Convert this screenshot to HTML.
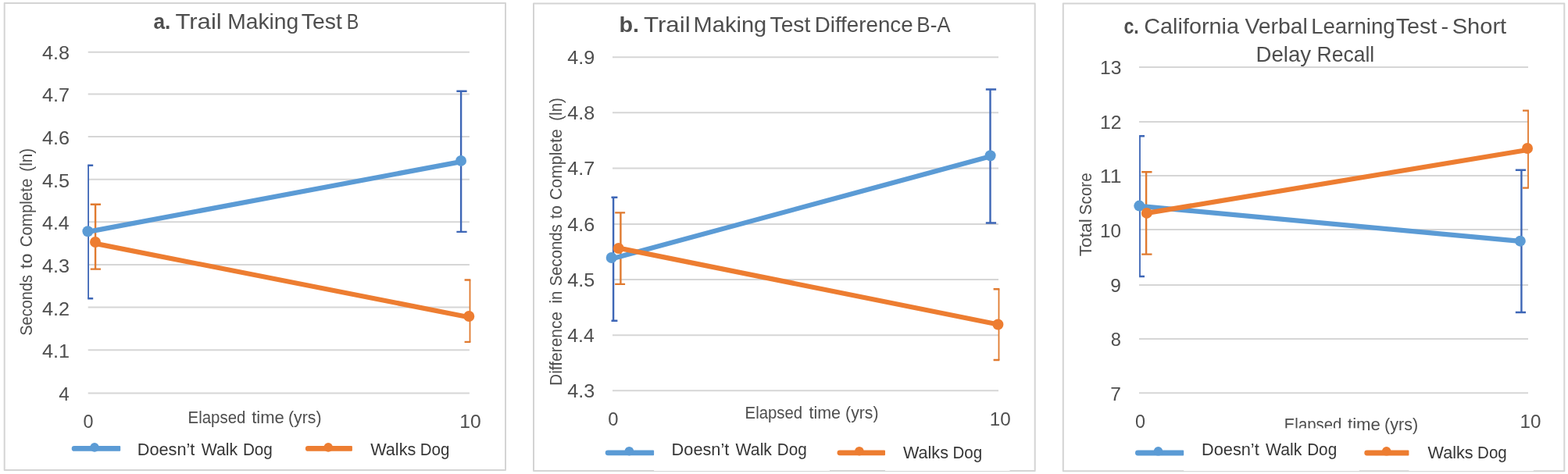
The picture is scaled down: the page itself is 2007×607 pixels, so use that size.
<!DOCTYPE html>
<html lang="en">
<head>
<meta charset="utf-8">
<title>Dog walking and cognitive outcomes</title>
<style>
html,body{margin:0;padding:0;background:#fff;}
body{width:2007px;height:607px;overflow:hidden;}
svg{display:block;font-family:'Liberation Sans', sans-serif;}
</style>
</head>
<body>
<svg width="2007" height="607" viewBox="0 0 2007 607">
<rect width="2007" height="607" fill="#fff"/>
<g id="panel-a">
<rect x="5.7" y="4" width="641.3" height="598.1" fill="#fff" stroke="#d4d4d4" stroke-width="2" stroke-linejoin="round"/>
<path d="M112.7 66.80H600.9M112.7 120.50H600.9M112.7 174.95H600.9M112.7 229.70H600.9M112.7 284.30H600.9M112.7 339.00H600.9M112.7 393.45H600.9M112.7 448.25H600.9M112.7 503.45H600.9" stroke="#d6d6d6" stroke-width="2" fill="none"/>
<text y="75.50" font-size="23" fill="#4e4e4e"><tspan x="54.00" textLength="35.17" lengthAdjust="spacingAndGlyphs">4.8</tspan></text>
<text y="130.20" font-size="23" fill="#4e4e4e"><tspan x="54.00" textLength="35.17" lengthAdjust="spacingAndGlyphs">4.7</tspan></text>
<text y="184.90" font-size="23" fill="#4e4e4e"><tspan x="54.00" textLength="35.17" lengthAdjust="spacingAndGlyphs">4.6</tspan></text>
<text y="239.60" font-size="23" fill="#4e4e4e"><tspan x="54.00" textLength="35.17" lengthAdjust="spacingAndGlyphs">4.5</tspan></text>
<text y="294.30" font-size="23" fill="#4e4e4e"><tspan x="54.01" textLength="34.76" lengthAdjust="spacingAndGlyphs">4.4</tspan></text>
<text y="349.00" font-size="23" fill="#4e4e4e"><tspan x="54.00" textLength="35.17" lengthAdjust="spacingAndGlyphs">4.3</tspan></text>
<text y="403.70" font-size="23" fill="#4e4e4e"><tspan x="54.00" textLength="35.17" lengthAdjust="spacingAndGlyphs">4.2</tspan></text>
<text y="458.40" font-size="23" fill="#4e4e4e"><tspan x="54.00" textLength="35.17" lengthAdjust="spacingAndGlyphs">4.1</tspan></text>
<text y="513.10" font-size="23" fill="#4e4e4e"><tspan x="75.17" textLength="13.59" lengthAdjust="spacingAndGlyphs">4</tspan></text>
<text y="36.80" font-size="27.6" fill="#4e4e4e"><tspan x="196.49" textLength="21.86" lengthAdjust="spacingAndGlyphs" font-weight="bold">a.</tspan> <tspan x="224.41" textLength="59.34" lengthAdjust="spacingAndGlyphs">Trail</tspan> <tspan x="291.19" textLength="91.09" lengthAdjust="spacingAndGlyphs">Making</tspan> <tspan x="385.76" textLength="52.05" lengthAdjust="spacingAndGlyphs">Test</tspan> <tspan x="443.79" textLength="15.49" lengthAdjust="spacingAndGlyphs">B</tspan></text>
<text y="547.80" font-size="23" fill="#4e4e4e"><tspan x="106.47" textLength="13.01" lengthAdjust="spacingAndGlyphs">0</tspan></text>
<text y="547.70" font-size="23" fill="#4e4e4e"><tspan x="588.36" textLength="27.46" lengthAdjust="spacingAndGlyphs">10</tspan></text>
<text y="541.90" font-size="21.3" fill="#4e4e4e"><tspan x="240.61" textLength="73.74" lengthAdjust="spacingAndGlyphs">Elapsed</tspan> <tspan x="322.20" textLength="41.69" lengthAdjust="spacingAndGlyphs">time</tspan> <tspan x="369.00" textLength="42.50" lengthAdjust="spacingAndGlyphs">(yrs)</tspan></text>
<text y="40.60" font-size="22" fill="#4e4e4e" transform="rotate(-90)"><tspan x="-429.83" textLength="77.85" lengthAdjust="spacingAndGlyphs">Seconds</tspan> <tspan x="-343.90" textLength="19.44" lengthAdjust="spacingAndGlyphs">to</tspan> <tspan x="-316.36" textLength="87.69" lengthAdjust="spacingAndGlyphs">Complete</tspan> <tspan x="-219.77" textLength="29.94" lengthAdjust="spacingAndGlyphs">(ln)</tspan></text>
<path d="M113.1 211.8V382.3" stroke="#3d66b6" stroke-width="1.8" fill="none"/>
<path d="M112.2 211.8H119.2M112.2 382.3H119.2" stroke="#3d66b6" stroke-width="2.4" fill="none"/>
<path d="M590.1 116.8V296.9" stroke="#3d66b6" stroke-width="2.4" fill="none"/>
<path d="M584.4 116.8H597.6M584.4 296.9H597.6" stroke="#3d66b6" stroke-width="2.4" fill="none"/>
<path d="M122.1 261.8V344.6" stroke="#e07a2f" stroke-width="2.4" fill="none"/>
<path d="M115.7 261.8H129.0M115.7 344.6H129.0" stroke="#e07a2f" stroke-width="2.4" fill="none"/>
<path d="M601.5 358.5V437.9" stroke="#e07a2f" stroke-width="1.8" fill="none"/>
<path d="M594.6 358.5H602.4M594.6 437.9H602.4" stroke="#e07a2f" stroke-width="2.4" fill="none"/>
<path d="M112.4 296.85L590.0 207.1" stroke="#5b9bd5" stroke-width="6.2" stroke-linecap="round" fill="none"/>
<circle cx="112.4" cy="296.2" r="7" fill="#5b9bd5"/>
<circle cx="590.0" cy="205.9" r="7" fill="#5b9bd5"/>
<path d="M122 311.9L600.3 406.2" stroke="#ed7d31" stroke-width="6.2" stroke-linecap="round" fill="none"/>
<circle cx="122" cy="310.0" r="7" fill="#ed7d31"/>
<circle cx="600.3" cy="405" r="7" fill="#ed7d31"/>
<path d="M95.10 571.00H153.20Q154.20 571.00 154.20 572.00V576.80Q154.20 577.80 153.20 577.80H95.10A3.4 3.4 0 0 1 95.10 571.00Z" fill="#5b9bd5"/>
<circle cx="121.00" cy="572.90" r="5.8" fill="#5b9bd5"/>
<text y="582.80" font-size="22" fill="#363636"><tspan x="175.70" textLength="73.72" lengthAdjust="spacingAndGlyphs">Doesn’t</tspan> <tspan x="257.70" textLength="46.37" lengthAdjust="spacingAndGlyphs">Walk</tspan> <tspan x="310.88" textLength="37.98" lengthAdjust="spacingAndGlyphs">Dog</tspan></text>
<path d="M394.30 571.00H449.90Q450.90 571.00 450.90 572.00V576.80Q450.90 577.80 449.90 577.80H394.30A3.4 3.4 0 0 1 394.30 571.00Z" fill="#ed7d31"/>
<circle cx="420.20" cy="572.90" r="5.8" fill="#ed7d31"/>
<text y="582.80" font-size="22" fill="#363636"><tspan x="474.20" textLength="58.08" lengthAdjust="spacingAndGlyphs">Walks</tspan> <tspan x="537.70" textLength="37.66" lengthAdjust="spacingAndGlyphs">Dog</tspan></text>
</g>
<g id="panel-b">
<rect x="683.0" y="4.5" width="641.7" height="598.5" fill="#fff" stroke="#d4d4d4" stroke-width="2" stroke-linejoin="round"/>
<path d="M784 73.32H1278M784 144.24H1278M784 215.42H1278M784 286.95H1278M784 357.97H1278M784 429.24H1278M784 500.32H1278" stroke="#d6d6d6" stroke-width="2" fill="none"/>
<text y="82.22" font-size="23" fill="#4e4e4e"><tspan x="726.21" textLength="35.01" lengthAdjust="spacingAndGlyphs">4.9</tspan></text>
<text y="153.14" font-size="23" fill="#4e4e4e"><tspan x="726.21" textLength="35.01" lengthAdjust="spacingAndGlyphs">4.8</tspan></text>
<text y="224.32" font-size="23" fill="#4e4e4e"><tspan x="726.21" textLength="35.01" lengthAdjust="spacingAndGlyphs">4.7</tspan></text>
<text y="295.85" font-size="23" fill="#4e4e4e"><tspan x="726.21" textLength="35.01" lengthAdjust="spacingAndGlyphs">4.6</tspan></text>
<text y="366.87" font-size="23" fill="#4e4e4e"><tspan x="726.21" textLength="35.01" lengthAdjust="spacingAndGlyphs">4.5</tspan></text>
<text y="438.14" font-size="23" fill="#4e4e4e"><tspan x="726.21" textLength="34.61" lengthAdjust="spacingAndGlyphs">4.4</tspan></text>
<text y="509.22" font-size="23" fill="#4e4e4e"><tspan x="726.21" textLength="35.01" lengthAdjust="spacingAndGlyphs">4.3</tspan></text>
<text y="40.50" font-size="27.6" fill="#4e4e4e"><tspan x="792.40" textLength="25.60" lengthAdjust="spacingAndGlyphs" font-weight="bold">b.</tspan> <tspan x="824.01" textLength="59.65" lengthAdjust="spacingAndGlyphs">Trail</tspan> <tspan x="887.63" textLength="93.60" lengthAdjust="spacingAndGlyphs">Making</tspan> <tspan x="985.56" textLength="51.74" lengthAdjust="spacingAndGlyphs">Test</tspan> <tspan x="1042.73" textLength="125.89" lengthAdjust="spacingAndGlyphs">Difference</tspan> <tspan x="1173.27" textLength="43.41" lengthAdjust="spacingAndGlyphs">B-A</tspan></text>
<text y="544.50" font-size="23" fill="#4e4e4e"><tspan x="778.16" textLength="13.24" lengthAdjust="spacingAndGlyphs">0</tspan></text>
<text y="544.50" font-size="23" fill="#4e4e4e"><tspan x="1266.69" textLength="26.91" lengthAdjust="spacingAndGlyphs">10</tspan></text>
<text y="536.05" font-size="21.3" fill="#4e4e4e"><tspan x="953.61" textLength="73.43" lengthAdjust="spacingAndGlyphs">Elapsed</tspan> <tspan x="1035.50" textLength="40.47" lengthAdjust="spacingAndGlyphs">time</tspan> <tspan x="1082.11" textLength="42.39" lengthAdjust="spacingAndGlyphs">(yrs)</tspan></text>
<text y="718.60" font-size="22.5" fill="#4e4e4e" transform="rotate(-90)"><tspan x="-493.93" textLength="94.88" lengthAdjust="spacingAndGlyphs">Difference</tspan> <tspan x="-388.58" textLength="15.93" lengthAdjust="spacingAndGlyphs">in</tspan> <tspan x="-366.33" textLength="79.07" lengthAdjust="spacingAndGlyphs">Seconds</tspan> <tspan x="-280.10" textLength="17.03" lengthAdjust="spacingAndGlyphs">to</tspan> <tspan x="-256.00" textLength="90.86" lengthAdjust="spacingAndGlyphs">Complete</tspan> <tspan x="-154.76" textLength="29.62" lengthAdjust="spacingAndGlyphs">(ln)</tspan></text>
<path d="M785.1 252.7V410.7" stroke="#3d66b6" stroke-width="2.4" fill="none"/>
<path d="M782.5 252.7H790.4M782.5 410.7H790.4" stroke="#3d66b6" stroke-width="2.4" fill="none"/>
<path d="M1267.5 114.5V285.5" stroke="#3d66b6" stroke-width="2.4" fill="none"/>
<path d="M1261.8 114.5H1275.1M1261.8 285.5H1275.1" stroke="#3d66b6" stroke-width="2.4" fill="none"/>
<path d="M794.4 272.4V363.9" stroke="#e07a2f" stroke-width="2.4" fill="none"/>
<path d="M787.15 272.4H800.1M787.15 363.9H800.1" stroke="#e07a2f" stroke-width="2.4" fill="none"/>
<path d="M1278.5 370.3V461.0" stroke="#e07a2f" stroke-width="1.8" fill="none"/>
<path d="M1271.6 370.3H1279.4M1271.6 461.0H1279.4" stroke="#e07a2f" stroke-width="2.4" fill="none"/>
<path d="M782.7 331.55L1267.6 200.3" stroke="#5b9bd5" stroke-width="6.2" stroke-linecap="round" fill="none"/>
<circle cx="782.7" cy="330" r="7" fill="#5b9bd5"/>
<circle cx="1267.6" cy="199.3" r="7" fill="#5b9bd5"/>
<path d="M791.7 317.65L1277.4 415.5" stroke="#ed7d31" stroke-width="6.2" stroke-linecap="round" fill="none"/>
<circle cx="791.7" cy="318" r="7" fill="#ed7d31"/>
<circle cx="1277.4" cy="415.5" r="7" fill="#ed7d31"/>
<rect x="837.1" y="560" width="224.9" height="43" fill="#fff"/>
<rect x="1133" y="562" width="159.5" height="41" fill="#fff"/>
<path d="M778.10 576.40H836.10Q837.10 576.40 837.10 577.40V582.20Q837.10 583.20 836.10 583.20H778.10A3.4 3.4 0 0 1 778.10 576.40Z" fill="#5b9bd5"/>
<circle cx="805.40" cy="577.70" r="5.8" fill="#5b9bd5"/>
<text y="583.40" font-size="22" fill="#363636"><tspan x="859.60" textLength="73.72" lengthAdjust="spacingAndGlyphs">Doesn’t</tspan> <tspan x="941.60" textLength="46.37" lengthAdjust="spacingAndGlyphs">Walk</tspan> <tspan x="994.78" textLength="37.98" lengthAdjust="spacingAndGlyphs">Dog</tspan></text>
<path d="M1074.90 576.40H1132.00Q1133.00 576.40 1133.00 577.40V582.20Q1133.00 583.20 1132.00 583.20H1074.90A3.4 3.4 0 0 1 1074.90 576.40Z" fill="#ed7d31"/>
<circle cx="1099.90" cy="577.70" r="5.8" fill="#ed7d31"/>
<text y="586.70" font-size="22" fill="#363636"><tspan x="1155.90" textLength="58.08" lengthAdjust="spacingAndGlyphs">Walks</tspan> <tspan x="1219.40" textLength="37.66" lengthAdjust="spacingAndGlyphs">Dog</tspan></text>
</g>
<g id="panel-c">
<rect x="1360.8" y="4.5" width="641.5" height="598.7" fill="#fff" stroke="#d4d4d4" stroke-width="2" stroke-linejoin="round"/>
<path d="M1458 85.90H1956M1458 156.05H1956M1458 224.95H1956M1458 293.90H1956M1458 365.05H1956M1458 434.05H1956M1458 503.15H1956" stroke="#d6d6d6" stroke-width="2" fill="none"/>
<text y="94.85" font-size="23" fill="#4e4e4e"><tspan x="1407.96" textLength="27.44" lengthAdjust="spacingAndGlyphs">13</tspan></text>
<text y="164.60" font-size="23" fill="#4e4e4e"><tspan x="1407.96" textLength="27.44" lengthAdjust="spacingAndGlyphs">12</tspan></text>
<text y="234.10" font-size="23" fill="#4e4e4e"><tspan x="1407.84" textLength="27.64" lengthAdjust="spacingAndGlyphs">11</tspan></text>
<text y="303.50" font-size="23" fill="#4e4e4e"><tspan x="1407.98" textLength="27.02" lengthAdjust="spacingAndGlyphs">10</tspan></text>
<text y="373.50" font-size="23" fill="#4e4e4e"><tspan x="1421.25" textLength="13.64" lengthAdjust="spacingAndGlyphs">9</tspan></text>
<text y="442.70" font-size="23" fill="#4e4e4e"><tspan x="1421.66" textLength="13.20" lengthAdjust="spacingAndGlyphs">8</tspan></text>
<text y="512.70" font-size="23" fill="#4e4e4e"><tspan x="1421.25" textLength="13.64" lengthAdjust="spacingAndGlyphs">7</tspan></text>
<text y="43.30" font-size="27.6" fill="#4e4e4e"><tspan x="1438.38" textLength="19.29" lengthAdjust="spacingAndGlyphs" font-weight="bold">c.</tspan> <tspan x="1464.25" textLength="121.77" lengthAdjust="spacingAndGlyphs">California</tspan> <tspan x="1593.40" textLength="80.37" lengthAdjust="spacingAndGlyphs">Verbal</tspan> <tspan x="1678.14" textLength="107.51" lengthAdjust="spacingAndGlyphs">Learning</tspan> <tspan x="1786.65" textLength="52.65" lengthAdjust="spacingAndGlyphs">Test</tspan> <tspan x="1844.49" textLength="9.65" lengthAdjust="spacingAndGlyphs">-</tspan> <tspan x="1858.69" textLength="69.51" lengthAdjust="spacingAndGlyphs">Short</tspan></text>
<text y="79.10" font-size="27.6" fill="#4e4e4e"><tspan x="1607.44" textLength="70.76" lengthAdjust="spacingAndGlyphs">Delay</tspan> <tspan x="1685.58" textLength="73.67" lengthAdjust="spacingAndGlyphs">Recall</tspan></text>
<text y="547.60" font-size="23" fill="#4e4e4e"><tspan x="1453.07" textLength="13.01" lengthAdjust="spacingAndGlyphs">0</tspan></text>
<text y="547.50" font-size="23" fill="#4e4e4e"><tspan x="1945.59" textLength="26.91" lengthAdjust="spacingAndGlyphs">10</tspan></text>
<text y="551.40" font-size="21.3" fill="#4e4e4e"><tspan x="1643.81" textLength="73.53" lengthAdjust="spacingAndGlyphs">Elapsed</tspan> <tspan x="1725.00" textLength="41.90" lengthAdjust="spacingAndGlyphs">time</tspan> <tspan x="1771.99" textLength="43.13" lengthAdjust="spacingAndGlyphs">(yrs)</tspan></text>
<text y="1397.00" font-size="22" fill="#4e4e4e" transform="rotate(-90)"><tspan x="-328.36" textLength="48.26" lengthAdjust="spacingAndGlyphs">Total</tspan> <tspan x="-275.14" textLength="53.78" lengthAdjust="spacingAndGlyphs">Score</tspan></text>
<rect x="1515.2" y="548.3" width="224.6" height="54.8" fill="#fff"/>
<rect x="1803.4" y="556" width="159.4" height="47.1" fill="#fff"/>
<path d="M1459.0 174.3V354" stroke="#3d66b6" stroke-width="1.8" fill="none"/>
<path d="M1458.1 174.3H1465.0M1458.1 354H1465.0" stroke="#3d66b6" stroke-width="2.4" fill="none"/>
<path d="M1947.4 217.7V400" stroke="#3d66b6" stroke-width="2.4" fill="none"/>
<path d="M1939.8 217.7H1953.0M1939.8 400H1953.0" stroke="#3d66b6" stroke-width="2.4" fill="none"/>
<path d="M1467.1 220.2V325.6" stroke="#e07a2f" stroke-width="2.4" fill="none"/>
<path d="M1461.2 220.2H1474.5M1461.2 325.6H1474.5" stroke="#e07a2f" stroke-width="2.4" fill="none"/>
<path d="M1956.0 141.6V240.6" stroke="#e07a2f" stroke-width="1.8" fill="none"/>
<path d="M1949.0 141.6H1956.9M1949.0 240.6H1956.9" stroke="#e07a2f" stroke-width="2.4" fill="none"/>
<path d="M1458.3 263.9L1945.8 308.9" stroke="#5b9bd5" stroke-width="6.2" stroke-linecap="round" fill="none"/>
<circle cx="1458.3" cy="263.6" r="7" fill="#5b9bd5"/>
<circle cx="1945.8" cy="308.65" r="7" fill="#5b9bd5"/>
<path d="M1467.8 272.9L1955 192.0" stroke="#ed7d31" stroke-width="6.2" stroke-linecap="round" fill="none"/>
<circle cx="1467.8" cy="272.9" r="7" fill="#ed7d31"/>
<circle cx="1955" cy="190.0" r="7" fill="#ed7d31"/>
<path d="M1456.40 576.60H1514.20Q1515.20 576.60 1515.20 577.60V582.40Q1515.20 583.40 1514.20 583.40H1456.40A3.4 3.4 0 0 1 1456.40 576.60Z" fill="#5b9bd5"/>
<circle cx="1482.50" cy="577.80" r="5.8" fill="#5b9bd5"/>
<text y="583.40" font-size="22" fill="#363636"><tspan x="1538.00" textLength="73.72" lengthAdjust="spacingAndGlyphs">Doesn’t</tspan> <tspan x="1620.00" textLength="46.37" lengthAdjust="spacingAndGlyphs">Walk</tspan> <tspan x="1673.18" textLength="37.98" lengthAdjust="spacingAndGlyphs">Dog</tspan></text>
<path d="M1749.70 576.60H1802.40Q1803.40 576.60 1803.40 577.60V582.40Q1803.40 583.40 1802.40 583.40H1749.70A3.4 3.4 0 0 1 1749.70 576.60Z" fill="#ed7d31"/>
<circle cx="1774.70" cy="577.80" r="5.8" fill="#ed7d31"/>
<text y="586.70" font-size="22" fill="#363636"><tspan x="1827.60" textLength="58.08" lengthAdjust="spacingAndGlyphs">Walks</tspan> <tspan x="1891.10" textLength="37.66" lengthAdjust="spacingAndGlyphs">Dog</tspan></text>
</g>
</svg>
</body>
</html>
